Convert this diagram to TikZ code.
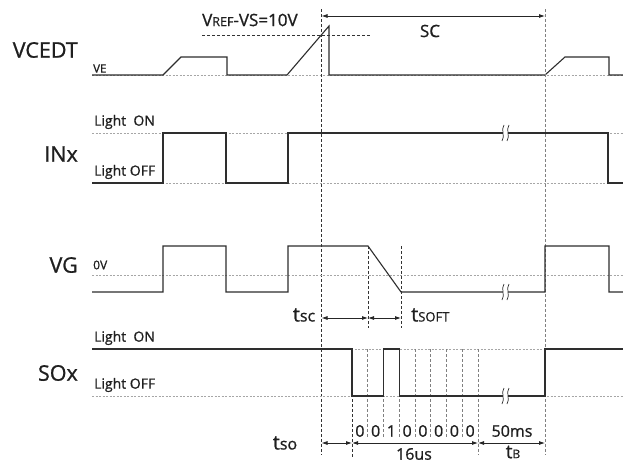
\documentclass[tikz,border=0pt]{standalone}
\usepackage{fontspec}
\setmainfont{Open Sans}
\newfontfamily\medfont{Open Sans}[FakeBold=0.9]
\usetikzlibrary{arrows.meta}
\begin{document}
\begin{tikzpicture}[x=1pt,y=-1pt,
  sig/.style={line width=1.1pt, draw=black!82, line join=miter},
  gridline/.style={line width=0.7pt, draw=black!35, dash pattern=on 2pt off 1.5pt},
  vdash/.style={line width=0.8pt, draw=black!80, dash pattern=on 3pt off 2pt},
  vdashg/.style={line width=0.8pt, draw=black!50, dash pattern=on 3pt off 2pt},
  dim/.style={line width=0.8pt, draw=black!85, {Latex[length=6pt,width=4pt]}-{Latex[length=6pt,width=4pt]}},
  big/.style={font=\medfont\fontsize{21.5}{22}\selectfont, anchor=east, inner sep=0pt, text=black!88},
  lvl/.style={font=\medfont\fontsize{14}{14}\selectfont, anchor=west, inner sep=0pt, text=black!88},
  tiny/.style={font=\medfont\fontsize{11.5}{12}\selectfont, anchor=west, inner sep=0pt, text=black!88},
  mid/.style={font=\medfont\fontsize{17}{17}\selectfont, inner sep=0pt, text=black!88},
  tlab/.style={font=\medfont\fontsize{20}{20}\selectfont, inner sep=0pt, text=black!88},
  bit/.style={font=\medfont\fontsize{16}{16}\selectfont, inner sep=0pt, text=black!88},
  brk/.pic={
    \fill[white] (-2.5,-7) rectangle (2.5,7);
    \draw[line width=0.7pt, black!80] (-1.5,-8) .. controls (-5,-3) and (0,3) .. (-3.5,8);
    \draw[line width=0.7pt, black!80] (3.5,-8) .. controls (0,-3) and (5,3) .. (1.5,8);
  }
]
\useasboundingbox (0,0) rectangle (623,463);
\fill[white] (0,0) rectangle (623,463);

% ---------- VCEDT ----------
\node[big] (lvcedt) at (78,50) {VCEDT};
\node[tiny] (lve) at (93,68.5) {VE};
\draw[gridline] (92,75) -- (623,75);
\draw[sig] (92,75) -- (163,75) -- (181,57) -- (227,57) -- (227,75) -- (287,75)
  -- (329,26) -- (329,75) -- (545,75) -- (565,57) -- (609,57) -- (609,75) -- (623,75);
\draw[vdash] (202,35) -- (370,35);
\node[mid, anchor=west] (lvref) at (202,20) {V{\fontsize{12.5}{13}\selectfont REF}-VS=10V};

% vertical markers
\coordinate (sctop) at (321.5,16);
\coordinate (scend) at (545,16);
\draw[vdash] (321.5,9) -- (321.5,455);
\draw[vdashg] (545,9) -- (545,455);
\draw[dim] (sctop) -- (scend);
\node[mid] (lsc) at (430,31) {SC};

% ---------- INx ----------
\node[big] (linx) at (78,154) {INx};
\node[lvl] (lon1) at (94,122) {Light\ \ ON};
\node[lvl] (loff1) at (94,172) {Light OFF};
\draw[gridline] (92,133) -- (623,133);
\draw[gridline] (92,183) -- (623,183);
\draw[sig] (92,183) -- (163,183) -- (163,133) -- (226,133) -- (226,183) -- (288,183)
  -- (288,133) -- (608,133) -- (608,183) -- (623,183);
\pic at (505.5,133) {brk};

% ---------- VG ----------
\node[big] (lvg) at (78,265) {VG};
\node[tiny, font=\medfont\fontsize{12}{12}\selectfont] (l0v) at (93,265) {0V};
\draw[gridline] (92,275) -- (623,275);
\draw[sig] (92,292) -- (163,292) -- (163,246) -- (226,246) -- (226,292) -- (288,292)
  -- (288,246) -- (368,246) -- (401,292) -- (545,292) -- (545,246) -- (609,246)
  -- (609,292) -- (623,292);
\pic at (505.5,292) {brk};
\draw[vdash] (368,246) -- (368,328);
\draw[vdash] (401,246) -- (401,328);
\coordinate (tsca) at (321.5,318);
\coordinate (tscb) at (368,318);
\coordinate (tscc) at (401,318);
\draw[dim] (tsca) -- (tscb);
\draw[dim] (tscb) -- (tscc);
\node[tlab] (ltsc) at (304,315) {t{\fontsize{16}{16}\selectfont sc}};
\node[tlab, anchor=west] (ltsoft) at (411,315) {t{\fontsize{13}{13}\selectfont SOFT}};

% ---------- SOx ----------
\node[big] (lsox) at (78,373) {SOx};
\node[lvl] (lon2) at (94,338) {Light\ \ ON};
\node[lvl] (loff2) at (94,385) {Light OFF};
\draw[gridline] (92,349) -- (623,349);
\draw[gridline] (92,396) -- (623,396);
\foreach \i in {1,...,7} {
  \draw[vdashg] (352+\i*15.75,349) -- (352+\i*15.75,438);
}
\draw[vdash] (352,349) -- (352,458);
\draw[vdashg] (478,349) -- (478,455);
\draw[sig] (92,349) -- (352,349) -- (352,396) -- (383.5,396) -- (383.5,349) -- (399.25,349)
  -- (399.25,396) -- (545,396) -- (545,349) -- (623,349);
\pic at (505.5,396) {brk};
\foreach \b [count=\i from 0] in {0,0,1,0,0,0,0,0} {
  \node[bit] (bit\i) at (359.9+\i*15.75,431) {\b};
}
\coordinate (soa) at (321.5,443);
\coordinate (sob) at (352,443);
\coordinate (soc) at (478,443);
\coordinate (sod) at (545,443);
\draw[dim] (soa) -- (sob);
\draw[dim] (sob) -- (soc);
\draw[dim] (soc) -- (sod);
\node[tlab] (ltso) at (285,443) {t{\fontsize{16}{16}\selectfont so}};
\node[bit] (l16) at (414,454) {16us};
\node[bit] (l50) at (512,431) {50ms};
\node[tlab, font=\medfont\fontsize{19}{19}\selectfont] (ltb) at (513,452) {t{\fontsize{12}{12}\selectfont B}};
\end{tikzpicture}
\end{document}
